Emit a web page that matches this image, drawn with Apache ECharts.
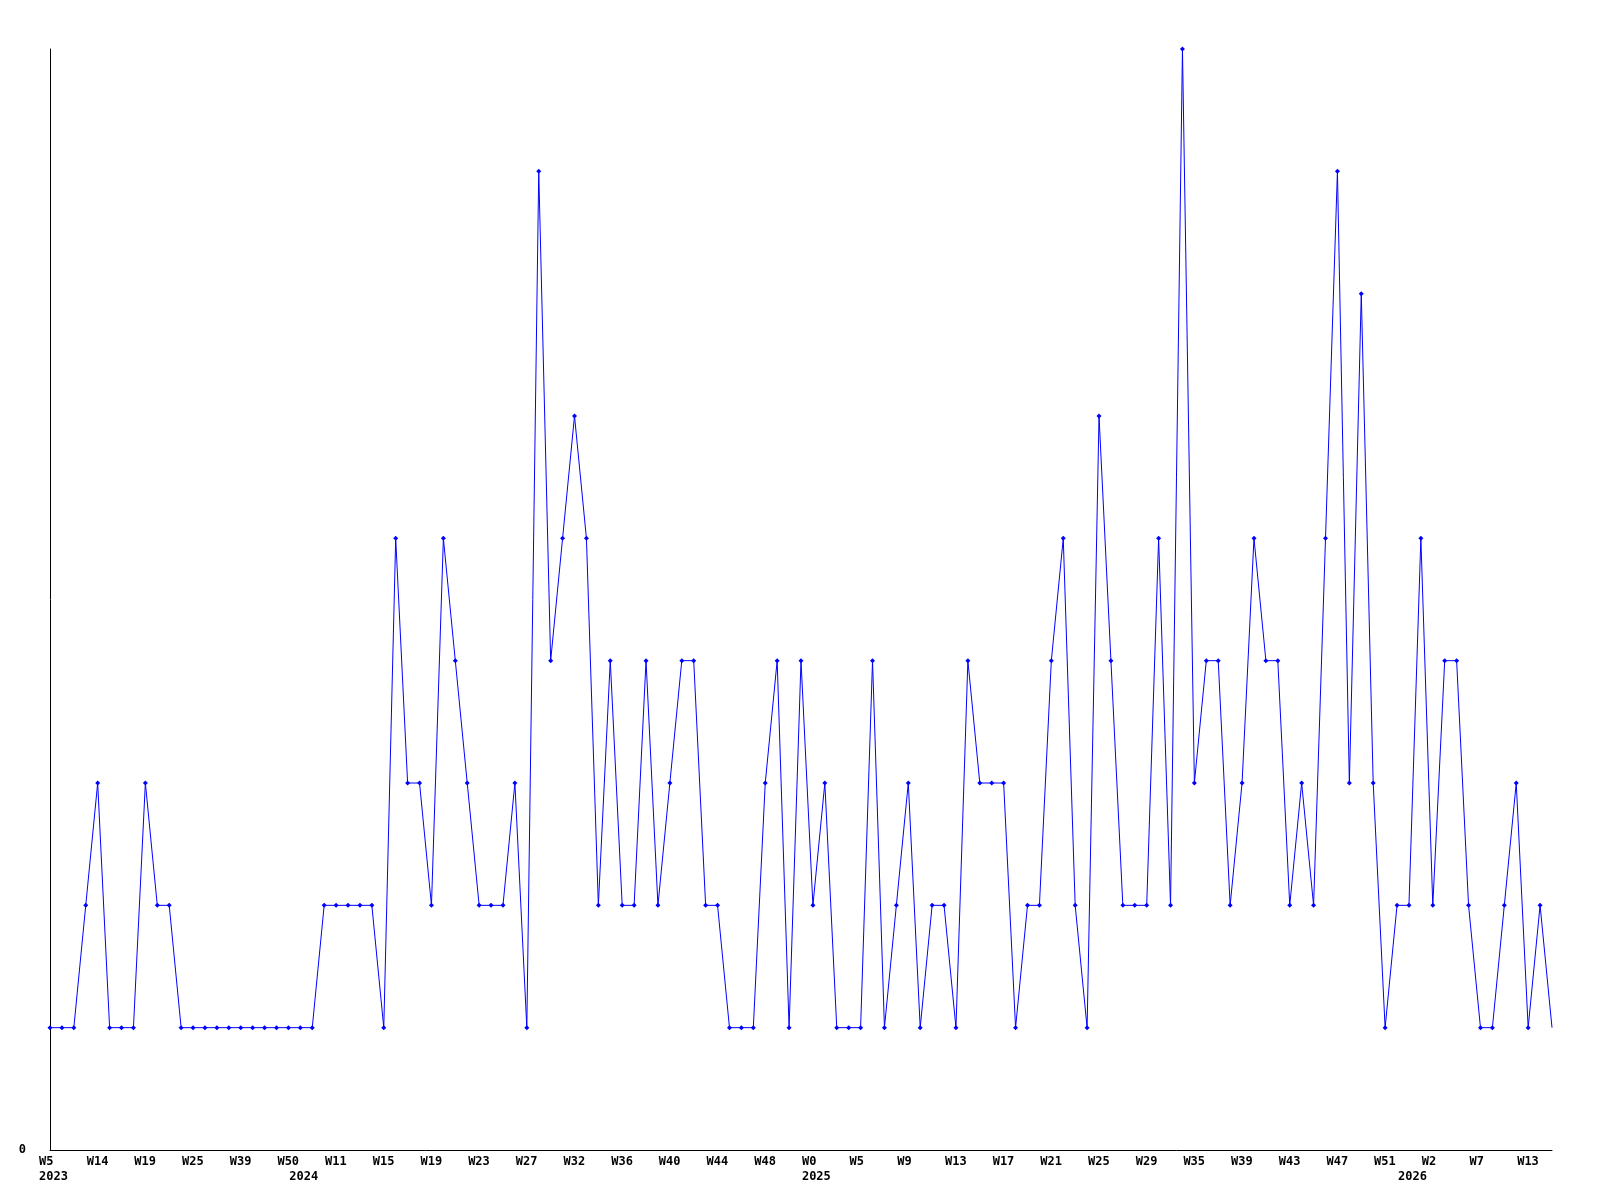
<!DOCTYPE html>
<html><head><meta charset="utf-8">
<script src="https://cdn.jsdelivr.net/npm/echarts@6/dist/echarts.min.js"></script>
<style>html,body{margin:0;padding:0;background:#fff}#c{width:1600px;height:1200px}</style>
</head><body><div id="c"></div>
<script>
const values = [1,1,1,2,3,1,1,1,3,2,2,1,1,1,1,1,1,1,1,1,1,1,1,2,2,2,2,2,1,5,3,3,2,5,4,3,2,2,2,3,1,8,4,5,6,5,2,4,2,2,4,2,3,4,4,2,2,1,1,1,3,4,1,4,2,3,1,1,1,4,1,2,3,1,2,2,1,4,3,3,3,1,2,2,4,5,2,1,6,4,2,2,2,5,2,9,3,4,4,2,3,5,4,4,2,3,2,5,8,3,7,3,1,2,2,5,2,4,4,2,1,1,2,3,1,2,1];
const tickLabels = ['W5','W14','W19','W25','W39','W50','W11','W15','W19','W23','W27','W32','W36','W40','W44','W48','W0','W5','W9','W13','W17','W21','W25','W29','W35','W39','W43','W47','W51','W2','W7','W13'];
const yearLabels = ['2023','2024','2025','2026'];
const yearIndex = [0,21,64,114];
const labelStep = 4;

const n = values.length;
const cats = values.map((v,i)=> i % labelStep === 0 ? (tickLabels[i/labelStep] || '') : '');
const yearCats = values.map((v,i)=> { const k = yearIndex.indexOf(i); return k >= 0 ? yearLabels[k] : ''; });
const font = {fontFamily:'DejaVu Sans Mono', fontWeight:'bold', fontSize:12, color:'#000'};
const boxLabel = {
  formatter:(v)=> v ? '{a|' + v + '}' : '',
  rich:{a:Object.assign({width:22, align:'left'}, font)}
};

const chart = echarts.init(document.getElementById('c'), null, {renderer:'canvas'});
chart.setOption({
  animation:false,
  backgroundColor:'#fff',
  grid:{left:50, right:48, top:49, bottom:50},
  xAxis:[{
    type:'category', data:cats, boundaryGap:false, position:'bottom',
    axisLine:{show:true, lineStyle:{color:'#000', width:1}},
    axisTick:{show:false},
    axisLabel:Object.assign({interval:0, margin:6}, font, boxLabel),
    splitLine:{show:false}
  },{
    type:'category', data:yearCats, boundaryGap:false, position:'bottom', offset:15,
    axisLine:{show:false}, axisTick:{show:false},
    axisLabel:Object.assign({interval:0, margin:6}, font, boxLabel),
    splitLine:{show:false}
  }],
  yAxis:{
    type:'value', min:0, max:9, interval:9,
    axisLine:{show:true, lineStyle:{color:'#000', width:1}},
    axisTick:{show:false},
    splitLine:{show:false},
    axisLabel:Object.assign({margin:24, formatter:(v)=> v===0 ? '0' : ''}, font)
  },
  series:[{
    type:'line', data:values, xAxisIndex:0,
    lineStyle:{color:'#0000ff', width:1},
    itemStyle:{color:'#0000ff'},
    symbol:'diamond',
    symbolSize:(v,p)=> p.dataIndex === n-1 ? 0 : 5,
    showAllSymbol:true
  }]
});
</script></body></html>
